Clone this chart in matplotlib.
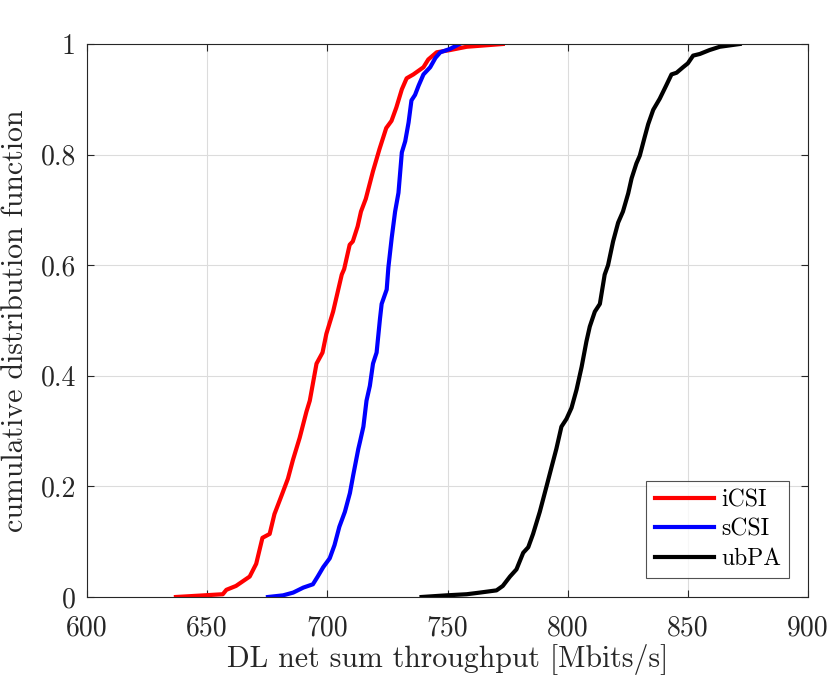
import numpy as np
import matplotlib
matplotlib.use("Agg")
import matplotlib.pyplot as plt

# CDF curves: throughput values [Mbits/s] and CDF levels
icsi_x = [637, 656.5, 658, 662, 667.7, 670.4, 673, 676, 678, 681, 683.6, 685.7, 688.5,
          691.3, 692.7, 695.5, 698, 699.6, 702.4, 706, 707, 709.3, 710.6, 712.6, 714,
          716, 719, 721.7, 724.5, 726.7, 728.7, 731, 733, 735.8, 740, 742, 745.5, 751,
          758, 773]
icsi_y = [0, 0.005, 0.013, 0.02, 0.037, 0.06, 0.107, 0.114, 0.15, 0.184, 0.214, 0.248,
          0.288, 0.335, 0.355, 0.422, 0.442, 0.476, 0.516, 0.583, 0.593, 0.637, 0.643,
          0.67, 0.697, 0.72, 0.77, 0.81, 0.848, 0.861, 0.885, 0.918, 0.938, 0.945, 0.958,
          0.972, 0.985, 0.989, 0.995, 1.0]

scsi_x = [675.3, 681.6, 685.8, 690, 694, 696, 698.3, 701, 703, 705, 707.3, 709.4, 710.8,
          712.9, 713.6, 715, 716.3, 717.7, 719, 720.5, 721.9, 722.6, 724.7, 725.4, 726.8,
          728.2, 729.6, 731, 732.4, 733.8, 735, 736.5, 738, 740, 742.8, 745, 747, 751, 755]
scsi_y = [0, 0.003, 0.008, 0.017, 0.023, 0.037, 0.054, 0.07, 0.094, 0.127, 0.154, 0.188,
          0.221, 0.268, 0.281, 0.308, 0.355, 0.382, 0.422, 0.442, 0.503, 0.53, 0.556,
          0.596, 0.65, 0.697, 0.731, 0.804, 0.824, 0.858, 0.898, 0.908, 0.925, 0.945,
          0.958, 0.975, 0.985, 0.991, 1.0]

ubpa_x = [739.2, 749.6, 758, 763.5, 770.4, 773, 776, 778.7, 781.5, 783.6, 785.6, 788.4,
          791.2, 793.3, 795.3, 797.4, 799.5, 801.6, 803.7, 805.8, 807.8, 809.2, 811.3,
          813.4, 815.4, 816.8, 818.9, 821, 823, 825.2, 826.6, 828.6, 830, 832, 833.5,
          835.6, 838.3, 841, 843.2, 845.3, 848, 850, 852.2, 855, 859, 863.3, 871.6]
ubpa_y = [0, 0.003, 0.005, 0.008, 0.012, 0.02, 0.037, 0.05, 0.08, 0.09, 0.114, 0.154,
          0.2, 0.235, 0.268, 0.308, 0.322, 0.342, 0.375, 0.416, 0.462, 0.489, 0.516,
          0.53, 0.583, 0.6, 0.643, 0.677, 0.697, 0.73, 0.757, 0.784, 0.798, 0.831, 0.855,
          0.881, 0.901, 0.925, 0.945, 0.948, 0.958, 0.965, 0.979, 0.982, 0.989, 0.995, 1.0]

labels = ["iCSI", "sCSI", "ubPA"]
colors = ["#ff0000", "#0000ff", "#000000"]

x_ticks = [600, 650, 700, 750, 800, 850, 900]
y_ticks = [0, 0.2, 0.4, 0.6, 0.8, 1]
y_ticklabels = ["0", "0.2", "0.4", "0.6", "0.8", "1"]

plt.rcParams['font.family'] = ['cmr10', 'DejaVu Serif']
plt.rcParams['mathtext.fontset'] = 'cm'
plt.rcParams['axes.unicode_minus'] = False

fig = plt.figure(figsize=(8.3, 6.77), dpi=100)
ax = fig.add_axes([87/830, 1 - 597/677, (808 - 87)/830, (597 - 44)/677])

for xs, ys, lab, col in zip([icsi_x, scsi_x, ubpa_x], [icsi_y, scsi_y, ubpa_y], labels, colors):
    ax.plot(xs, ys, color=col, lw=3.0, label=lab)

ax.set_xlim(600, 900)
ax.set_ylim(0, 1)
ax.set_xticks(x_ticks)
ax.set_xticklabels([str(v) for v in x_ticks])
ax.set_yticks(y_ticks)
ax.set_yticklabels(y_ticklabels)
ax.grid(True, color='#dcdcdc', lw=0.8)
ax.set_axisbelow(True)
axcol = '#262626'
for s in ax.spines.values():
    s.set_color(axcol)
    s.set_linewidth(0.8)
ax.tick_params(direction='in', top=True, right=True, length=5, width=0.8,
               colors=axcol, labelsize=20)
ax.tick_params(axis='x', pad=13)
ax.tick_params(axis='y', pad=8)
for lab in ax.get_xticklabels() + ax.get_yticklabels():
    lab.set_color(axcol)

ax.set_xlabel("DL net sum throughput [Mbits/s]", fontsize=21.5, color=axcol, labelpad=2)
ax.set_ylabel("cumulative distribution function", fontsize=21.5, color=axcol, labelpad=8)

leg = ax.legend(loc='lower right', fontsize=17, frameon=True, fancybox=False,
                edgecolor=axcol, handlelength=2.5, borderpad=0.35, labelspacing=0.3,
                handletextpad=0.3, borderaxespad=0.8)
leg.get_frame().set_linewidth(0.8)

fig.savefig("out.png", dpi=100)
